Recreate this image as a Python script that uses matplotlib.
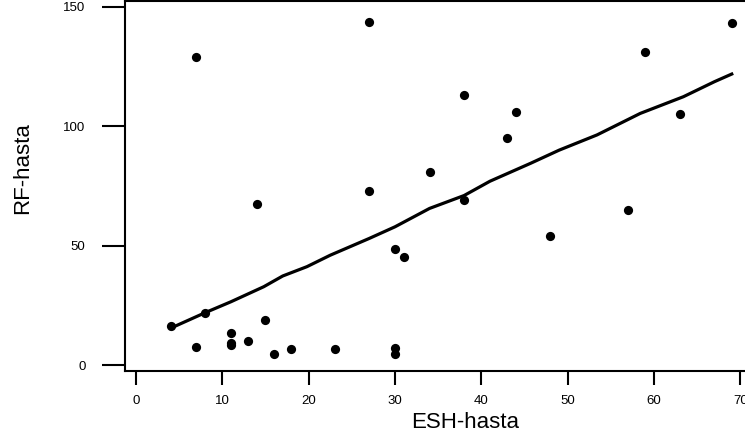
import matplotlib.pyplot as plt
import numpy as np

plt.rcParams['font.family'] = ['Liberation Sans', 'DejaVu Sans']

# ESH-hasta vs RF-hasta
esh = [4, 7, 7, 8, 11, 11, 11, 13, 14, 15, 16, 18, 23, 27, 27,
       30, 30, 30, 31, 34, 38, 38, 43, 44, 48, 57, 59, 63, 69]
rf = [16.3, 129, 7.7, 21.9, 13.5, 9.3, 8.2, 10, 67.4, 18.7, 4.7, 6.8, 6.8, 143.8, 73,
      48.6, 7.3, 4.5, 45.4, 80.9, 113.1, 69.1, 95.1, 106, 54.2, 65.1, 131.3, 105.3, 143.1]

# fitted line vertices (slightly jagged in the original)
fit_x = [4, 8, 11, 14.8, 17, 19.8, 22.5, 27, 30, 34, 38, 41, 45.7, 49, 53.4, 58.4, 63.4, 67, 69]
fit_y = [15.4, 21.9, 26.5, 32.8, 37.3, 41.2, 46, 53, 57.9, 65.6, 71, 77, 84.5, 90, 96.4,
         105.4, 112.4, 118.7, 121.9]

xticks = [0, 10, 20, 30, 40, 50, 60, 70]
yticks = [0, 50, 100, 150]

W, H = 745, 441
fig = plt.figure(figsize=(W / 100, H / 100), dpi=100)
# axes box runs off the right edge, as in the reference
left, right, top, bottom = 125, 758, 1, 371
ax = fig.add_axes([left / W, 1 - bottom / H, (right - left) / W, (bottom - top) / H])

ax.scatter(esh, rf, s=44, color='black', zorder=3, linewidths=0)
ax.plot(fit_x, fit_y, color='black', linewidth=2.3, zorder=2)

ax.set_xlim(-1.27, 72.04)
ax.set_ylim(-2.51, 152.5)
ax.set_xticks(xticks)
ax.set_yticks(yticks)

for s in ax.spines.values():
    s.set_linewidth(1.5)
ax.tick_params(axis='y', length=16.5, width=1.5, pad=12, labelsize=9.5)
ax.tick_params(axis='x', length=10, width=1.5, pad=7, labelsize=9.5)

fig.text(465 / W, 1 - 422 / H, 'ESH-hasta', ha='center', va='center', fontsize=16)
fig.text(23 / W, 1 - 168 / H, 'RF-hasta', ha='center', va='center', fontsize=16, rotation=90)

fig.savefig('out.png', dpi=100)
